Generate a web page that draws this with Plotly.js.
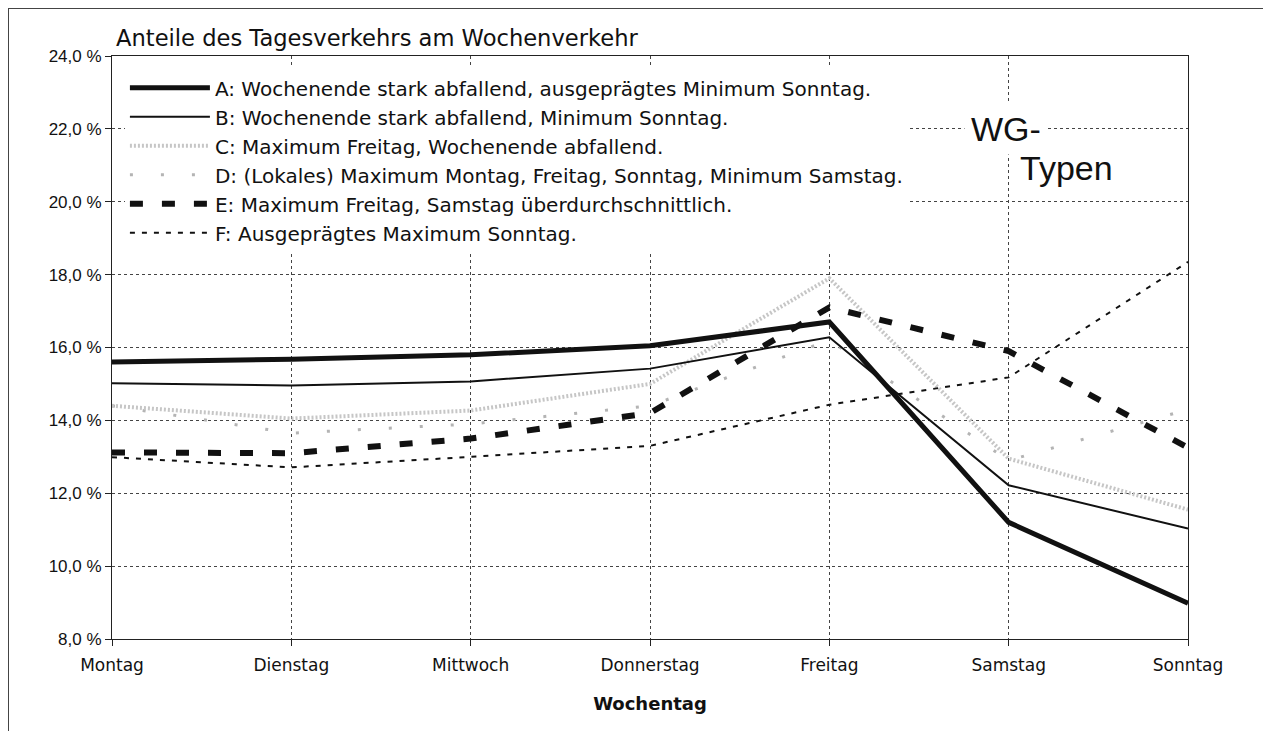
<!DOCTYPE html>
<html>
<head>
<meta charset="utf-8">
<script src="https://cdn.plot.ly/plotly-3.0.1.min.js"></script>
<style>
  html, body { margin: 0; padding: 0; background: #fff; }
  #wrap { position: relative; width: 1263px; height: 731px; overflow: hidden; }
  #frame { position: absolute; left: 8px; top: 8px; width: 1300px; height: 800px;
           border-top: 1px solid #444; border-left: 1px solid #444; pointer-events: none; z-index: 5; }
  #chart { position: absolute; left: 0; top: 0; width: 1263px; height: 731px; }
</style>
</head>
<body>
<div id="wrap">
  <div id="chart"></div>
  <div id="frame"></div>
</div>
<script>
// ---- data ----
const days = ["Montag", "Dienstag", "Mittwoch", "Donnerstag", "Freitag", "Samstag", "Sonntag"];

const nameA = "A: Wochenende stark abfallend, ausgeprägtes Minimum Sonntag.";
const nameB = "B: Wochenende stark abfallend, Minimum Sonntag.";
const nameC = "C: Maximum Freitag, Wochenende abfallend.";
const nameD = "D: (Lokales) Maximum Montag, Freitag, Sonntag, Minimum Samstag.";
const nameE = "E: Maximum Freitag, Samstag überdurchschnittlich.";
const nameF = "F: Ausgeprägtes Maximum Sonntag.";

const valuesA = [15.6, 15.68, 15.8, 16.05, 16.7, 11.2, 8.98];
const valuesB = [15.02, 14.96, 15.07, 15.42, 16.28, 12.22, 11.03];
const valuesC = [14.4, 14.05, 14.27, 15.0, 17.9, 12.95, 11.55];
const valuesD = [14.4, 13.65, 13.9, 14.4, 16.2, 12.9, 14.3];
const valuesE = [13.12, 13.1, 13.5, 14.2, 17.1, 15.9, 13.25];
const valuesF = [12.99, 12.71, 13.0, 13.3, 14.43, 15.18, 18.35];

const yTicks = [8, 10, 12, 14, 16, 18, 20, 22, 24];
const yTickText = yTicks.map(v => v.toFixed(1).replace(".", ",") + " %");
const chartTitle = "Anteile des Tagesverkehrs am Wochenverkehr";
const xTitle = "Wochentag";
const noteLine1 = "WG-";
const noteLine2 = "Typen";

// ---- chart ----
const FONT = "DejaVu Sans, Verdana, sans-serif";
const FONT2 = "Liberation Sans, Arial, sans-serif";

function tr(name, y, color, width, dash) {
  return { type: "scatter", mode: "lines", name: name, x: days, y: y,
           line: { color: color, width: width, dash: dash }, hoverinfo: "skip" };
}

const traces = [
  tr(nameD, valuesD, "#b4b4b4", 3, "3px,28px"),
  tr(nameC, valuesC, "#c6c6c6", 4, "2px,2px"),
  tr(nameF, valuesF, "#111", 2, "5px,7px"),
  tr(nameE, valuesE, "#111", 6, "13px,19px"),
  tr(nameB, valuesB, "#111", 2, "solid"),
  tr(nameA, valuesA, "#111", 5, "solid")
];
// legend order A..F
const order = [5, 4, 1, 0, 3, 2];
order.forEach((idx, k) => { traces[idx].legendrank = k + 1; });

const layout = {
  width: 1263, height: 731,
  paper_bgcolor: "#fff", plot_bgcolor: "#fff",
  font: { family: FONT, color: "#111", size: 16 },
  margin: { l: 112, r: 75, t: 56, b: 92 },
  showlegend: true,
  title: { text: chartTitle, x: 116 / 1263, xanchor: "left", xref: "container",
           y: 1 - 38 / 731, yanchor: "middle", yref: "container",
           font: { size: 22.6, family: FONT, color: "#111" } },
  xaxis: {
    type: "category", range: [0, 6], fixedrange: true,
    showgrid: true, gridcolor: "#444", gridwidth: 1, griddash: "dot",
    showline: true, linecolor: "#222", linewidth: 1, mirror: true,
    ticks: "outside", ticklen: 6, tickcolor: "#222", ticklabelstandoff: 5,
    tickfont: { size: 17, family: FONT, color: "#111" },
    title: { text: "<b>" + xTitle + "</b>", font: { size: 18, family: FONT, color: "#111" }, standoff: 22 }
  },
  yaxis: {
    range: [8, 24], tickvals: yTicks, ticktext: yTickText,
    showgrid: true, gridcolor: "#444", gridwidth: 1, griddash: "dot",
    zeroline: false,
    showline: true, linecolor: "#222", linewidth: 1, mirror: true,
    ticks: "outside", ticklen: 6, tickcolor: "#222",
    tickfont: { size: 17, family: FONT2, color: "#111" }
  },
  legend: {
    x: 0.012, y: 0.979, xanchor: "left", yanchor: "top",
    bgcolor: "#fff", borderwidth: 0,
    font: { size: 20, family: FONT, color: "#111" },
    itemwidth: 80, tracegroupgap: 0, traceorder: "normal"
  },
  annotations: [
    { xref: "paper", yref: "y", x: (1006 - 112) / 1076, y: 22, xanchor: "center", yanchor: "middle",
      text: noteLine1, showarrow: false,
      font: { size: 34, family: FONT2, color: "#111" }, bgcolor: "#fff", borderpad: 6 },
    { xref: "paper", yref: "paper", x: (1066 - 112) / 1076, y: (639 - 168) / 583, xanchor: "center", yanchor: "middle",
      text: noteLine2, showarrow: false,
      font: { size: 34, family: FONT2, color: "#111" } }
  ]
};

Plotly.newPlot("chart", traces, layout, { displayModeBar: false, staticPlot: true });
</script>
</body>
</html>
